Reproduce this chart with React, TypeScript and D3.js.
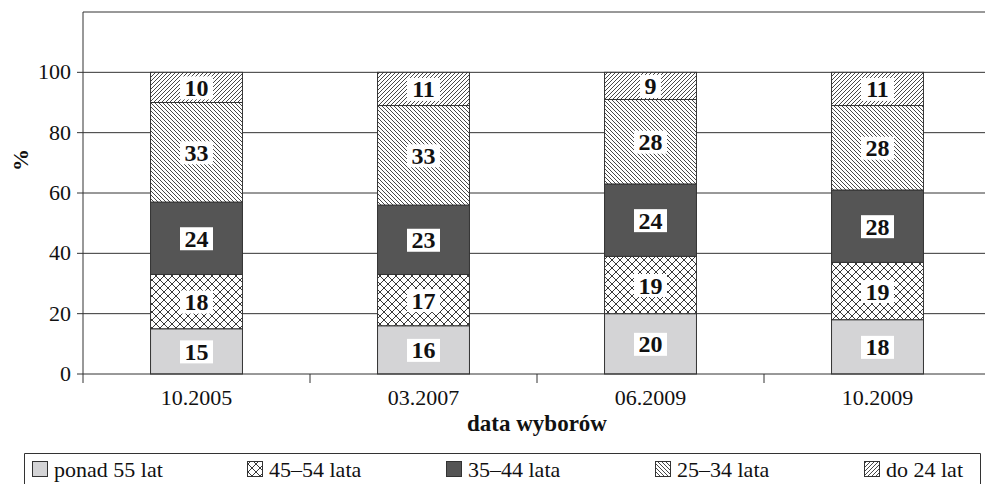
import React from "react";
import * as d3 from "d3";

// election dates (x categories)
const categories = ["10.2005", "03.2007", "06.2009", "10.2009"];

// age groups, bottom to top of the stack
const groupNames = ["ponad 55 lat", "45–54 lata", "35–44 lata", "25–34 lata", "do 24 lat"];

// segment heights in %
const ponad55 = [15, 16, 20, 18];
const lata45_54 = [18, 17, 19, 19];
const lata35_44 = [24, 23, 24, 24];
const lata25_34 = [33, 33, 28, 28];
const do24 = [10, 11, 9, 11];

// printed labels (the 10.2009 dark segment is labelled 28 in the source)
const printed35_44 = [24, 23, 24, 28];

const yTicks = [0, 20, 40, 60, 80, 100];

const W = 985;
const H = 484;
const FONT = "'Liberation Serif', 'Times New Roman', serif";

const fills = ["#d4d4d6", "url(#cross)", "#555555", "url(#back)", "url(#fwd)"];

const App: React.FC = () => {
  const series = [ponad55, lata45_54, lata35_44, lata25_34, do24];
  const printed = [ponad55, lata45_54, printed35_44, lata25_34, do24];

  const rows = categories.map((c, i) => {
    const r: any = { cat: c };
    groupNames.forEach((g, k) => (r[g] = series[k][i]));
    return r;
  });
  const stacked = d3.stack<any>().keys(groupNames)(rows);

  const x = d3.scaleBand<string>().domain(categories).range([83, 991]).paddingInner(0.595).paddingOuter(0.2975);
  const y = d3.scaleLinear().domain([0, 120]).range([374, 12]);
  const step = x.step();

  return (
    <svg width={W} height={H} style={{ display: "block", position: "absolute", left: 0, top: 0 }}>
      <defs>
        <pattern id="cross" width={8} height={8} patternUnits="userSpaceOnUse">
          <rect width={8} height={8} fill="#fff" />
          <path d="M0,0 L8,8 M8,0 L0,8" stroke="#222" strokeWidth={0.9} />
        </pattern>
        <pattern id="back" width={4} height={4} patternUnits="userSpaceOnUse">
          <rect width={4} height={4} fill="#fff" />
          <path d="M-1,-1 L5,5 M-1,3 L1,5 M3,-1 L5,1" stroke="#333" strokeWidth={0.9} />
        </pattern>
        <pattern id="fwd" width={4} height={4} patternUnits="userSpaceOnUse">
          <rect width={4} height={4} fill="#fff" />
          <path d="M-1,5 L5,-1 M-1,1 L1,-1 M3,5 L5,3" stroke="#333" strokeWidth={0.9} />
        </pattern>
      </defs>

      {/* top frame line + gridlines */}
      <line x1={83} x2={W} y1={y(120)} y2={y(120)} stroke="#333" />
      {yTicks.filter((t) => t > 0).map((t) => (
        <line key={t} x1={83} x2={W} y1={y(t)} y2={y(t)} stroke="#333" />
      ))}

      {/* bars */}
      {stacked.map((s, k) =>
        s.map((d, i) => (
          <rect
            key={`${k}-${i}`}
            x={x(categories[i])}
            y={y(d[1])}
            width={x.bandwidth()}
            height={y(d[0]) - y(d[1])}
            fill={fills[k]}
            stroke="#333"
            strokeWidth={1}
          />
        ))
      )}

      {/* value labels */}
      {stacked.map((s, k) =>
        s.map((d, i) => {
          const cx = (x(categories[i]) as number) + x.bandwidth() / 2;
          const cy = (y(d[0]) + y(d[1])) / 2;
          const txt = String(printed[k][i]);
          const bw = txt.length * 12 + 9;
          return (
            <g key={`l-${k}-${i}`}>
              <rect x={cx - bw / 2} y={cy - 11} width={bw} height={23} fill="#fff" />
              <text x={cx} y={cy + 8.5} textAnchor="middle" fontFamily={FONT} fontWeight="bold" fontSize={24} fill="#111">
                {txt}
              </text>
            </g>
          );
        })
      )}

      {/* axes */}
      <line x1={83} x2={W} y1={y(0)} y2={y(0)} stroke="#333" />
      <line x1={83} x2={83} y1={y(120)} y2={y(0) + 9} stroke="#333" />
      {yTicks.map((t) => (
        <g key={t}>
          <line x1={77} x2={83} y1={y(t)} y2={y(t)} stroke="#333" />
          <text x={71} y={y(t) + 7} textAnchor="end" fontFamily={FONT} fontSize={22} fill="#111">
            {t}
          </text>
        </g>
      ))}
      {categories.map((c, i) => (
        <g key={c}>
          {i > 0 && (
            <line x1={83 + step * i} x2={83 + step * i} y1={y(0)} y2={y(0) + 9} stroke="#333" />
          )}
          <text x={(x(c) as number) + x.bandwidth() / 2} y={405} textAnchor="middle" fontFamily={FONT} fontSize={22} fill="#111">
            {c}
          </text>
        </g>
      ))}
      <text x={537} y={431} textAnchor="middle" fontFamily={FONT} fontWeight="bold" fontSize={23} fill="#111">
        data wyborów
      </text>
      <text transform="translate(28,160) rotate(-90)" textAnchor="middle" fontFamily={FONT} fontWeight="bold" fontSize={22} fill="#111">
        %
      </text>

      {/* legend */}
      <path d={`M24.5,${H} V453.5 H980.5 V${H}`} fill="none" stroke="#333" />
      {groupNames.map((g, k) => {
        const lx = [32, 247, 446, 655, 864][k];
        return (
          <g key={g}>
            <rect x={lx + 0.5} y={461.5} width={15} height={15} fill={fills[k]} stroke="#333" />
            <text x={lx + 22} y={477} fontFamily={FONT} fontSize={22} fill="#111">
              {g}
            </text>
          </g>
        );
      })}
    </svg>
  );
};

export default App;
